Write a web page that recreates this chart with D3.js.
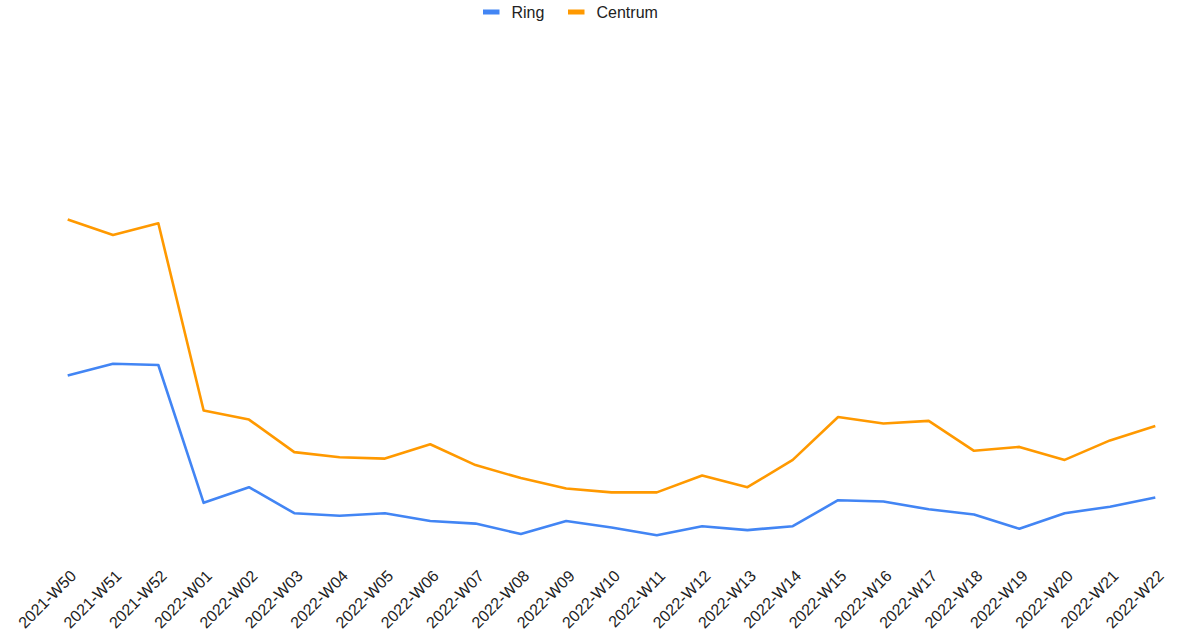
<!DOCTYPE html>
<html>
<head>
<meta charset="utf-8">
<script src="https://cdn.jsdelivr.net/npm/d3@7"></script>
<style>
  html, body { margin: 0; padding: 0; background: #fff; }
  svg { display: block; font-family: Arial, "Liberation Sans", sans-serif; }
</style>
</head>
<body>
<svg id="chart" width="1182" height="636"></svg>
<script>
// Weekly counts per area
const weeks = [
  "2021-W50", "2021-W51", "2021-W52",
  "2022-W01", "2022-W02", "2022-W03", "2022-W04", "2022-W05", "2022-W06",
  "2022-W07", "2022-W08", "2022-W09", "2022-W10", "2022-W11", "2022-W12",
  "2022-W13", "2022-W14", "2022-W15", "2022-W16", "2022-W17", "2022-W18",
  "2022-W19", "2022-W20", "2022-W21", "2022-W22"
];
const ring = [142, 151, 150, 44, 56, 36, 34, 36, 30, 28, 20, 30, 25, 19, 26, 23, 26, 46, 45, 39, 35, 24, 36, 41, 48];
const centrum = [262, 250, 259, 115, 108, 83, 79, 78, 89, 73, 63, 55, 52, 52, 65, 56, 77, 110, 105, 107, 84, 87, 77, 92, 103];
const seriesNames = ["Ring", "Centrum"];
const seriesColors = ["#4285F4", "#FF9900"];

const svg = d3.select("#chart");

const x = d3.scalePoint().domain(weeks).range([67.7, 1155.3]);
const y = d3.scaleLinear().domain([0, 400]).range([560, 40]);

const series = [
  { name: seriesNames[0], color: seriesColors[0], values: ring },
  { name: seriesNames[1], color: seriesColors[1], values: centrum }
];

// Lines
const line = d3.line()
  .x((d, i) => x(weeks[i]))
  .y(d => y(d));

svg.append("g")
  .selectAll("path")
  .data(series)
  .join("path")
  .attr("fill", "none")
  .attr("stroke", d => d.color)
  .attr("stroke-width", 2.6)
  .attr("stroke-linejoin", "round")
  .attr("d", d => line(d.values));

// Category axis with slanted labels
const axis = d3.axisBottom(x).tickSize(0).tickPadding(0);
const gx = svg.append("g")
  .attr("transform", "translate(0,577)")
  .call(axis);
gx.select(".domain").remove();
gx.selectAll(".tick text")
  .attr("fill", "#222")
  .attr("font-size", 16)
  .attr("font-family", "Arial, 'Liberation Sans', sans-serif")
  .attr("text-anchor", "end")
  .attr("dy", 0)
  .attr("y", 0)
  .attr("transform", "translate(9,0) rotate(-45)");

// Legend
const legend = svg.append("g");
const legendItems = [
  { x: 483, tx: 511.5 },
  { x: 568, tx: 596.5 }
];
series.forEach((s, i) => {
  legend.append("rect")
    .attr("x", legendItems[i].x)
    .attr("y", 9.5)
    .attr("width", 16.5)
    .attr("height", 5)
    .attr("fill", s.color);
  legend.append("text")
    .attr("x", legendItems[i].tx)
    .attr("y", 17.8)
    .attr("font-size", 16)
    .attr("fill", "#222")
    .text(s.name);
});
</script>
</body>
</html>
